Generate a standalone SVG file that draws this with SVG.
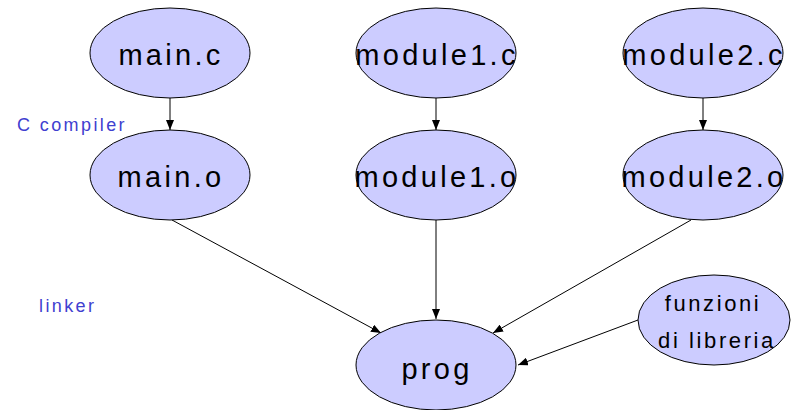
<svg xmlns="http://www.w3.org/2000/svg" width="792" height="410" viewBox="0 0 792 410">
<style>
.node ellipse{fill:#ccccff;stroke:#000;stroke-width:1}
.node text{font-family:"Liberation Sans",Arial,sans-serif;font-size:29px;letter-spacing:3.3px;fill:#000;text-anchor:middle}
.node text.small{font-size:22px;letter-spacing:2.6px}
.lbl{font-family:"Liberation Sans",Arial,sans-serif;font-size:18px;letter-spacing:2.4px;fill:#4040d0}
.edge{stroke:#000;stroke-width:1;fill:none;marker-end:url(#arr)}
</style>
<defs>
<marker id="arr" viewBox="0 0 10 8" refX="10" refY="4" markerWidth="10" markerHeight="8" markerUnits="userSpaceOnUse" orient="auto">
<path d="M0,0 L10,4 L0,8 Z" fill="#000"/>
</marker>
</defs>
<rect width="792" height="410" fill="#fff"/>
<g id="connectors">
<line class="edge" x1="170" y1="98" x2="170" y2="130"/>
<line class="edge" x1="436" y1="98" x2="436" y2="130"/>
<line class="edge" x1="703" y1="98" x2="703" y2="130"/>
<line class="edge" x1="172" y1="220" x2="381" y2="333"/>
<line class="edge" x1="436" y1="220" x2="436" y2="319"/>
<line class="edge" x1="691" y1="220" x2="493" y2="333"/>
<line class="edge" x1="638" y1="320" x2="518" y2="365"/>
</g>
<g id="main_c" class="node"><ellipse cx="170" cy="53" rx="80" ry="45"/><text x="171" y="65">main.c</text></g>
<g id="module1_c" class="node"><ellipse cx="436" cy="53" rx="80" ry="45"/><text x="437" y="65">module1.c</text></g>
<g id="module2_c" class="node"><ellipse cx="703" cy="53" rx="80" ry="45"/><text x="704" y="65">module2.c</text></g>
<g id="main_o" class="node"><ellipse cx="170" cy="175" rx="80" ry="45"/><text x="171" y="187">main.o</text></g>
<g id="module1_o" class="node"><ellipse cx="436" cy="175" rx="80" ry="45"/><text x="437" y="187">module1.o</text></g>
<g id="module2_o" class="node"><ellipse cx="703" cy="175" rx="80" ry="45"/><text x="704" y="187">module2.o</text></g>
<g id="prog" class="node"><ellipse cx="436" cy="365" rx="80" ry="45"/><text x="437" y="379">prog</text></g>
<g id="funzioni" class="node"><ellipse cx="714" cy="320" rx="76" ry="45"/><text class="small" x="713" y="311">funzioni</text><text class="small" x="717" y="348">di libreria</text></g>
<text id="lbl_compiler" class="lbl" x="17" y="131">C compiler</text>
<text id="lbl_linker" class="lbl" x="39" y="312">linker</text>
</svg>
